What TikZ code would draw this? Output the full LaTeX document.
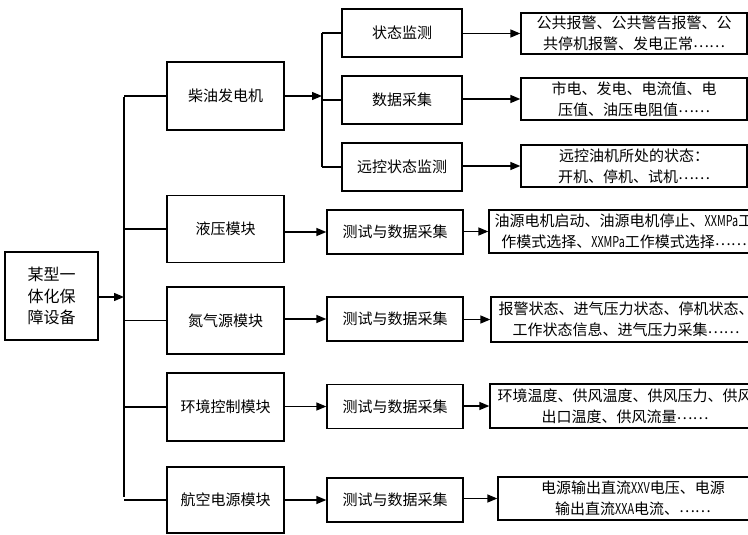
\documentclass[tikz,border=0pt]{standalone}
\usepackage{fontspec}
\setmainfont{Noto Sans CJK SC}
\usetikzlibrary{arrows.meta}
\newcommand\dotsx{\raisebox{0.3ex}{……}}
\newcommand\narrow[1]{\scalebox{0.72}[1]{#1}}
\begin{document}
\begin{tikzpicture}[x=1pt,y=-1pt,
  box/.style={draw,line width=1.3pt,rectangle,inner sep=0pt,align=center,font=\fontsize{15}{21}\selectfont},
  lone/.style={box,minimum width=117pt,minimum height=67pt},
  ltwo/.style={box,minimum width=120pt,minimum height=48pt},
  lthree/.style={box,minimum width=226pt,minimum height=42pt},
  mtwo/.style={box,minimum width=136pt,minimum height=44pt},
  mthree/.style={box,minimum width=270pt,minimum height=44pt},
  wire/.style={line width=1.3pt},
  arr/.style={line width=1.3pt,-{Triangle[length=10pt,width=8pt]}}]
\useasboundingbox (0,0) rectangle (748,535);
\clip (0,0) rectangle (748,535);
% main
\node[box,minimum width=93pt,minimum height=88pt,font=\fontsize{16}{21.5}\selectfont] (main) at (51.5,296) {某型一\\体化保\\障设备};
\coordinate (bustop) at (124,97);
\coordinate (busbot) at (124,497);
% level 1
\node[lone,minimum height=68pt] (chai) at (225.5,96) {柴油发电机};
\node[lone] (ye) at (225.5,229) {液压模块};
\node[lone] (dan) at (225.5,320.5) {氮气源模块};
\node[lone,minimum height=68pt] (huan) at (225.5,407) {环境控制模块};
\node[lone,minimum height=66pt] (hang) at (225.5,500) {航空电源模块};
% level 2 top
\node[ltwo] (zt) at (402,33) {状态监测};
\node[ltwo] (sj) at (402,100) {数据采集};
\node[ltwo] (yk) at (402,167) {远控状态监测};
\coordinate (bus2top) at (322,33);
\coordinate (bus2bot) at (322,167);
% level 3 top
\node[lthree,minimum height=41pt] (gg) at (634,33.5) {公共报警、公共警告报警、公\\共停机报警、发电正常\dotsx};
\node[lthree] (sd) at (634,99) {市电、发电、电流值、电\\压值、油压电阻值\dotsx};
\node[lthree] (yz) at (634,166) {远控油机所处的状态：\\开机、停机、试机\dotsx};
% module level 2
\node[mtwo] (t1) at (395,232) {测试与数据采集};
\node[mtwo] (t2) at (395,319) {测试与数据采集};
\node[mtwo] (t3) at (395,406.5) {测试与数据采集};
\node[mtwo] (t4) at (395,500) {测试与数据采集};
% module level 3
\node[mthree,minimum height=43pt] (d1) at (624,231.5) {油源电机启动、油源电机停止、\narrow{XXMPa}工\\作模式选择、\narrow{XXMPa}工作模式选择\dotsx};
\node[mthree,minimum height=45pt] (d2) at (626,319.5) {报警状态、进气压力状态、停机状态、\\工作状态信息、进气压力采集\dotsx};
\node[mthree] (d3) at (625,406) {环境温度、供风温度、供风压力、供风\\出口温度、供风流量\dotsx};
\node[mthree,minimum height=43pt] (d4) at (633,498.5) {电源输出直流\narrow{XXV}电压、电源\\输出直流\narrow{XXA}电流、\dotsx};
% connectors
\draw[arr] (main.east |- 0,297) -- (0,297 -| bustop);
\draw[wire] (bustop) -- (busbot);
\foreach \n in {chai,ye,dan,huan,hang} \draw[wire] (\n.west -| bustop) -- (\n.west);
\draw[arr] (chai.east) -- (chai.east -| bus2top);
\draw[wire] (bus2top) -- (bus2bot);
\foreach \n in {zt,sj,yk} \draw[wire] (\n.west -| bus2top) -- (\n.west);
\draw[arr] (gg.west -| zt.east) -- (gg.west);
\draw[arr] (sd.west -| sj.east) -- (sd.west);
\draw[arr] (yz.west -| yk.east) -- (yz.west);
\draw[arr] (t1.west -| ye.east) -- (t1.west);
\draw[arr] (t2.west -| dan.east) -- (t2.west);
\draw[arr] (t3.west -| huan.east) -- (t3.west);
\draw[arr] (t4.west -| hang.east) -- (t4.west);
\draw[arr] (d1.west -| t1.east) -- (d1.west);
\draw[arr] (d2.west -| t2.east) -- (d2.west);
\draw[arr] (d3.west -| t3.east) -- (d3.west);
\draw[arr] (d4.west -| t4.east) -- (d4.west);
\end{tikzpicture}
\end{document}
